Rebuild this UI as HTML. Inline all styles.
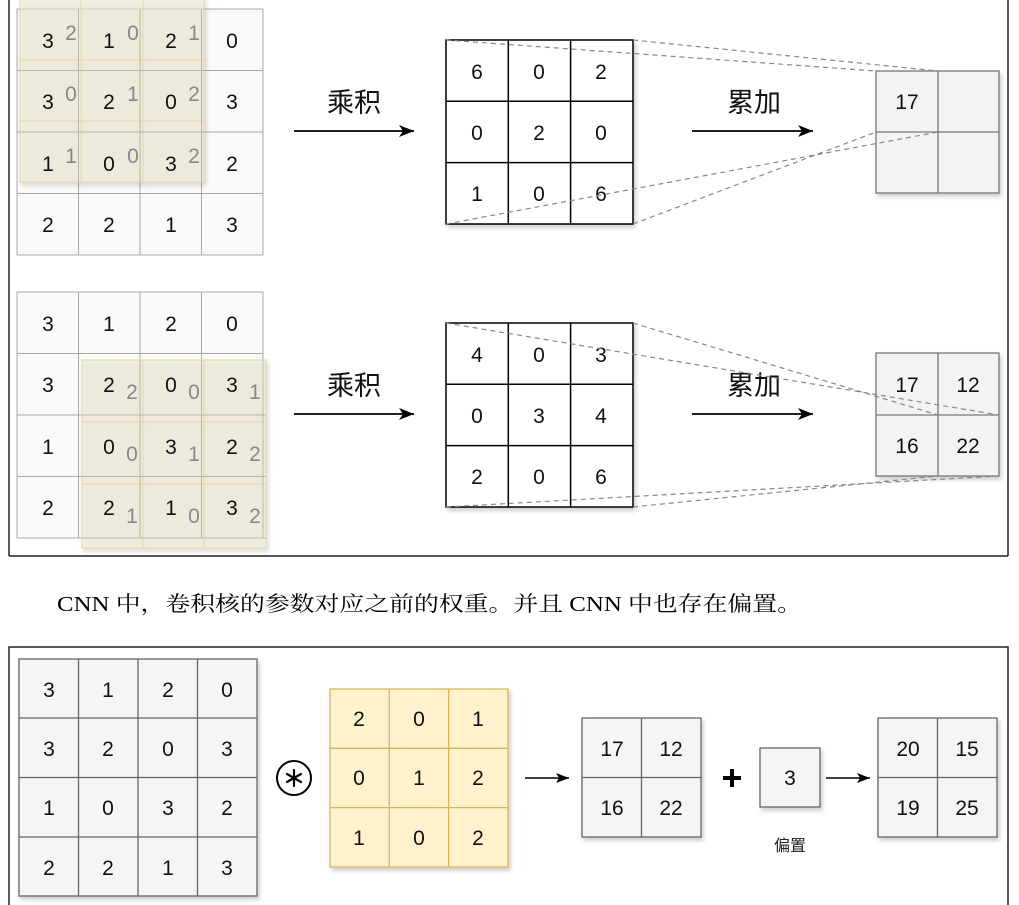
<!DOCTYPE html>
<html><head><meta charset="utf-8"><style>
html,body{margin:0;padding:0;background:#fff;}
svg{display:block;}
text{font-family:"Liberation Sans","Noto Sans CJK SC",sans-serif;}
</style></head><body>
<svg width="1019" height="905" viewBox="0 0 1019 905" xmlns="http://www.w3.org/2000/svg">
<defs>
<filter id="sh" x="-10%" y="-10%" width="130%" height="130%"><feDropShadow dx="2" dy="3" stdDeviation="2" flood-color="#000" flood-opacity="0.2"/></filter>
<marker id="ar" markerWidth="16" markerHeight="14" refX="15" refY="7" orient="auto" markerUnits="userSpaceOnUse"><path d="M0,1 L15,7 L0,13 L4,7 Z" fill="#000"/></marker>
<marker id="ar2" markerWidth="14" markerHeight="12" refX="13" refY="6" orient="auto" markerUnits="userSpaceOnUse"><path d="M0,1 L13,6 L0,11 L3,6 Z" fill="#000"/></marker>
</defs>
<line x1="9" y1="0" x2="9" y2="556" stroke="#222" stroke-width="1.5"/>
<line x1="1008" y1="0" x2="1008" y2="556" stroke="#222" stroke-width="1.5"/>
<line x1="9" y1="556" x2="1008" y2="556" stroke="#222" stroke-width="1.5"/>

<g stroke="#aaa" fill="#fafafa" stroke-width="1">
<rect x="17" y="9" width="246" height="246"/>
<line x1="78.5" y1="9" x2="78.5" y2="255"/><line x1="140" y1="9" x2="140" y2="255"/><line x1="201.5" y1="9" x2="201.5" y2="255"/>
<line x1="17" y1="70.5" x2="263" y2="70.5"/><line x1="17" y1="132" x2="263" y2="132"/><line x1="17" y1="193.5" x2="263" y2="193.5"/>
</g>
<g fill="#eee9d2" fill-opacity="0.6" stroke="#e6d7a6" stroke-width="1" filter="url(#sh)">
<rect x="20" y="-2" width="61" height="62"/><rect x="81" y="-2" width="62" height="62"/><rect x="143" y="-2" width="61" height="62"/>
<rect x="20" y="60" width="61" height="61"/><rect x="81" y="60" width="62" height="61"/><rect x="143" y="60" width="61" height="61"/>
<rect x="20" y="121" width="61" height="61"/><rect x="81" y="121" width="62" height="61"/><rect x="143" y="121" width="61" height="61"/>
</g>
<g stroke="#aaa" stroke-width="1" stroke-opacity="0.7">
<line x1="78.5" y1="9" x2="78.5" y2="182"/><line x1="140" y1="9" x2="140" y2="182"/><line x1="201.5" y1="9" x2="201.5" y2="182"/>
<line x1="20" y1="70.5" x2="204" y2="70.5"/><line x1="20" y1="132" x2="204" y2="132"/>
</g>
<g font-size="21" text-anchor="middle" fill="#111">
<text x="48" y="48">3</text><text x="109" y="48">1</text><text x="171" y="48">2</text><text x="232" y="48">0</text>
<text x="48" y="109">3</text><text x="109" y="109">2</text><text x="171" y="109">0</text><text x="232" y="109">3</text>
<text x="48" y="171">1</text><text x="109" y="171">0</text><text x="171" y="171">3</text><text x="232" y="171">2</text>
<text x="48" y="232">2</text><text x="109" y="232">2</text><text x="171" y="232">1</text><text x="232" y="232">3</text>
</g>
<g font-size="21" text-anchor="middle" fill="#888">
<text x="71" y="40">2</text><text x="133" y="40">0</text><text x="194" y="40">1</text>
<text x="71" y="101">0</text><text x="133" y="101">1</text><text x="194" y="101">2</text>
<text x="71" y="163">1</text><text x="133" y="163">0</text><text x="194" y="163">2</text>
</g>

<g stroke="#aaa" fill="#fafafa" stroke-width="1">
<rect x="17" y="292" width="246" height="246"/>
<line x1="78.5" y1="292" x2="78.5" y2="538"/><line x1="140" y1="292" x2="140" y2="538"/><line x1="201.5" y1="292" x2="201.5" y2="538"/>
<line x1="17" y1="353.5" x2="263" y2="353.5"/><line x1="17" y1="415" x2="263" y2="415"/><line x1="17" y1="476.5" x2="263" y2="476.5"/>
</g>
<g fill="#eee9d2" fill-opacity="0.6" stroke="#e6d7a6" stroke-width="1" filter="url(#sh)">
<rect x="82" y="360" width="61" height="62"/><rect x="143" y="360" width="61" height="62"/><rect x="204" y="360" width="62" height="62"/>
<rect x="82" y="422" width="61" height="62"/><rect x="143" y="422" width="61" height="62"/><rect x="204" y="422" width="62" height="62"/>
<rect x="82" y="484" width="61" height="64"/><rect x="143" y="484" width="61" height="64"/><rect x="204" y="484" width="62" height="64"/>
</g>
<g stroke="#aaa" stroke-width="1" stroke-opacity="0.7">
<line x1="140" y1="360" x2="140" y2="538"/><line x1="201.5" y1="360" x2="201.5" y2="538"/><line x1="263" y1="360" x2="263" y2="538"/>
<line x1="82" y1="415" x2="266" y2="415"/><line x1="82" y1="476.5" x2="266" y2="476.5"/><line x1="82" y1="538" x2="266" y2="538"/>
</g>
<g font-size="21" text-anchor="middle" fill="#111">
<text x="48" y="331">3</text><text x="109" y="331">1</text><text x="171" y="331">2</text><text x="232" y="331">0</text>
<text x="48" y="392">3</text><text x="109" y="392">2</text><text x="171" y="392">0</text><text x="232" y="392">3</text>
<text x="48" y="454">1</text><text x="109" y="454">0</text><text x="171" y="454">3</text><text x="232" y="454">2</text>
<text x="48" y="515">2</text><text x="109" y="515">2</text><text x="171" y="515">1</text><text x="232" y="515">3</text>
</g>
<g font-size="21" text-anchor="middle" fill="#888">
<text x="132" y="399">2</text><text x="194" y="399">0</text><text x="255" y="399">1</text>
<text x="132" y="461">0</text><text x="194" y="461">1</text><text x="255" y="461">2</text>
<text x="132" y="523">1</text><text x="194" y="523">0</text><text x="255" y="523">2</text>
</g>

<g font-size="27" text-anchor="middle" fill="#111">
<text x="354" y="112">乘积</text><text x="754" y="112">累加</text>
<text x="354" y="395">乘积</text><text x="754" y="395">累加</text>
</g>
<g stroke="#000" stroke-width="1.8" marker-end="url(#ar)">
<line x1="294" y1="131" x2="414" y2="131"/><line x1="692" y1="131" x2="813" y2="131"/>
<line x1="294" y1="414" x2="414" y2="414"/><line x1="692" y1="414" x2="813" y2="414"/>
</g>

<g stroke="#000" fill="#fff" stroke-width="1.5">
<rect x="446" y="40" width="187" height="184" filter="url(#sh)"/>
<line x1="508.3" y1="40" x2="508.3" y2="224"/><line x1="570.6" y1="40" x2="570.6" y2="224"/>
<line x1="446" y1="101.3" x2="633" y2="101.3"/><line x1="446" y1="162.6" x2="633" y2="162.6"/>
<rect x="446" y="323" width="187" height="184" filter="url(#sh)"/>
<line x1="508.3" y1="323" x2="508.3" y2="507"/><line x1="570.6" y1="323" x2="570.6" y2="507"/>
<line x1="446" y1="384.3" x2="633" y2="384.3"/><line x1="446" y1="445.6" x2="633" y2="445.6"/>
</g>
<g font-size="21" text-anchor="middle" fill="#111">
<text x="477" y="79">6</text><text x="539" y="79">0</text><text x="601" y="79">2</text>
<text x="477" y="140">0</text><text x="539" y="140">2</text><text x="601" y="140">0</text>
<text x="477" y="201">1</text><text x="539" y="201">0</text><text x="601" y="201">6</text>
<text x="477" y="362">4</text><text x="539" y="362">0</text><text x="601" y="362">3</text>
<text x="477" y="423">0</text><text x="539" y="423">3</text><text x="601" y="423">4</text>
<text x="477" y="484">2</text><text x="539" y="484">0</text><text x="601" y="484">6</text>
</g>

<g stroke="#777" fill="#f3f3f3" stroke-width="1.3">
<rect x="876" y="71" width="123" height="122" filter="url(#sh)"/>
<line x1="938" y1="71" x2="938" y2="193"/><line x1="876" y1="132" x2="999" y2="132"/>
<rect x="876" y="353" width="123" height="123" filter="url(#sh)"/>
<line x1="938" y1="353" x2="938" y2="476"/><line x1="876" y1="415" x2="999" y2="415"/>
</g>
<g font-size="21" text-anchor="middle" fill="#111">
<text x="907" y="109">17</text>
<text x="907" y="392">17</text><text x="968" y="392">12</text>
<text x="907" y="453">16</text><text x="968" y="453">22</text>
</g>

<g stroke="#888" stroke-width="1.2" stroke-dasharray="5,4" fill="none">
<line x1="446" y1="40" x2="876" y2="71"/><line x1="633" y1="40" x2="938" y2="71"/>
<line x1="446" y1="224" x2="938" y2="132"/><line x1="633" y1="224" x2="876" y2="132"/>
<line x1="446" y1="323" x2="999" y2="415"/><line x1="633" y1="323" x2="938" y2="415"/>
<line x1="446" y1="507" x2="999" y2="476"/><line x1="633" y1="507" x2="938" y2="476"/>
</g>

<text x="57" y="611" font-size="21" textLength="745" lengthAdjust="spacingAndGlyphs" style="font-family:'Liberation Serif','Noto Serif CJK SC',serif" fill="#000">CNN 中，卷积核的参数对应之前的权重。并且 CNN 中也存在偏置。</text>

<path d="M9,905 L9,647 L1008,647 L1008,905" fill="none" stroke="#222" stroke-width="1.5"/>
<g stroke="#666" fill="#f5f5f5" stroke-width="1.3">
<rect x="19" y="659" width="238" height="237" filter="url(#sh)"/>
<line x1="78.5" y1="659" x2="78.5" y2="896"/><line x1="138" y1="659" x2="138" y2="896"/><line x1="197.5" y1="659" x2="197.5" y2="896"/>
<line x1="19" y1="718" x2="257" y2="718"/><line x1="19" y1="777.5" x2="257" y2="777.5"/><line x1="19" y1="837" x2="257" y2="837"/>
</g>
<g font-size="21" text-anchor="middle" fill="#111">
<text x="49" y="697">3</text><text x="108" y="697">1</text><text x="168" y="697">2</text><text x="227" y="697">0</text>
<text x="49" y="756">3</text><text x="108" y="756">2</text><text x="168" y="756">0</text><text x="227" y="756">3</text>
<text x="49" y="815">1</text><text x="108" y="815">0</text><text x="168" y="815">3</text><text x="227" y="815">2</text>
<text x="49" y="875">2</text><text x="108" y="875">2</text><text x="168" y="875">1</text><text x="227" y="875">3</text>
</g>
<circle cx="294" cy="778" r="17" fill="none" stroke="#000" stroke-width="2"/>
<g stroke="#000" stroke-width="2.2" stroke-linecap="round">
<line x1="294" y1="770" x2="294" y2="786"/>
<line x1="287" y1="774" x2="301" y2="782"/>
<line x1="287" y1="782" x2="301" y2="774"/>
</g>
<g stroke="#d6b656" fill="#fff2cc" stroke-width="1.3">
<rect x="330" y="689" width="178" height="178" filter="url(#sh)"/>
<line x1="389.3" y1="689" x2="389.3" y2="867"/><line x1="448.6" y1="689" x2="448.6" y2="867"/>
<line x1="330" y1="748.3" x2="508" y2="748.3"/><line x1="330" y1="807.6" x2="508" y2="807.6"/>
</g>
<g font-size="21" text-anchor="middle" fill="#111">
<text x="359" y="726">2</text><text x="419" y="726">0</text><text x="478" y="726">1</text>
<text x="359" y="785">0</text><text x="419" y="785">1</text><text x="478" y="785">2</text>
<text x="359" y="845">1</text><text x="419" y="845">0</text><text x="478" y="845">2</text>
</g>
<g stroke="#000" stroke-width="1.5" marker-end="url(#ar2)">
<line x1="525" y1="778" x2="569" y2="778"/><line x1="826" y1="778" x2="870" y2="778"/>
</g>
<g stroke="#666" fill="#f5f5f5" stroke-width="1.3">
<rect x="582" y="718" width="119" height="119" filter="url(#sh)"/>
<line x1="641.5" y1="718" x2="641.5" y2="837"/><line x1="582" y1="777.5" x2="701" y2="777.5"/>
<rect x="760" y="748" width="60" height="59" filter="url(#sh)"/>
<rect x="878" y="718" width="119" height="119" filter="url(#sh)"/>
<line x1="937.5" y1="718" x2="937.5" y2="837"/><line x1="878" y1="777.5" x2="997" y2="777.5"/>
</g>
<path d="M723,778 H741 M732,769 V787" stroke="#000" stroke-width="4"/>
<g font-size="21" text-anchor="middle" fill="#111">
<text x="612" y="756">17</text><text x="671" y="756">12</text>
<text x="612" y="815">16</text><text x="671" y="815">22</text>
<text x="790" y="785">3</text>
<text x="908" y="756">20</text><text x="967" y="756">15</text>
<text x="908" y="815">19</text><text x="967" y="815">25</text>
</g>
<text x="790" y="851" font-size="16" text-anchor="middle" fill="#222">偏置</text>
</svg>
</body></html>
